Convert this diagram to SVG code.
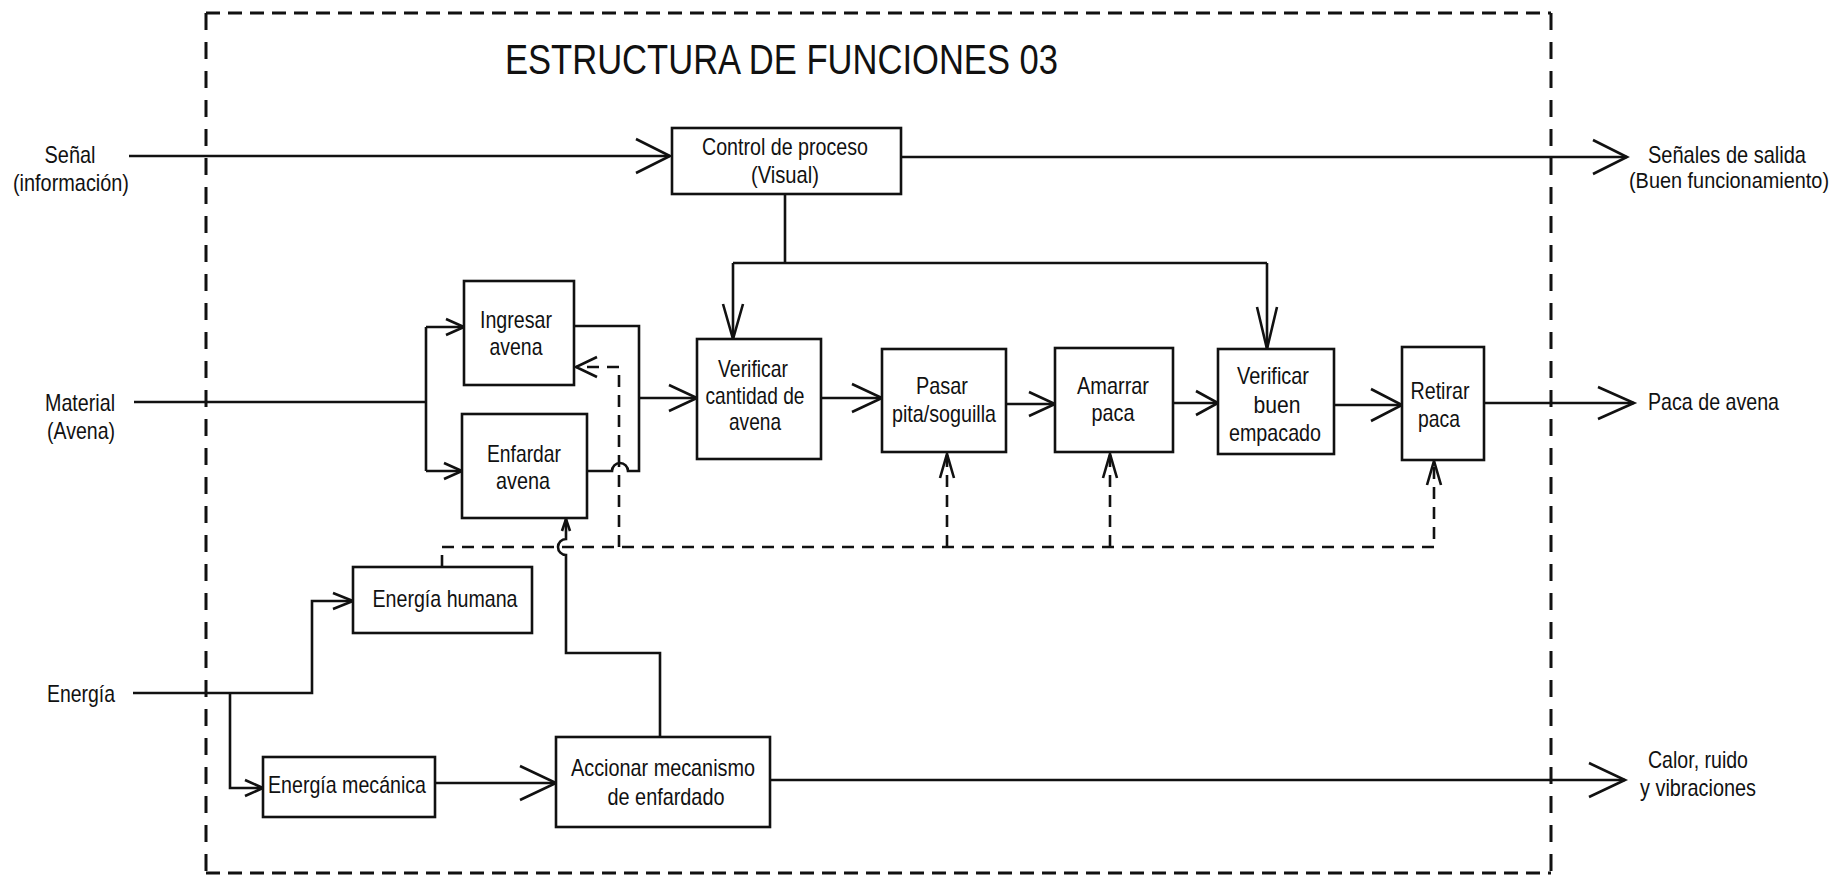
<svg xmlns="http://www.w3.org/2000/svg" width="1847" height="878" viewBox="0 0 1847 878">
<style>
.bg{fill:#fff}
.box{fill:#fff;stroke:#111;stroke-width:2.6}
.ln{fill:none;stroke:#111;stroke-width:2.6;stroke-linejoin:miter}
.ah{fill:none;stroke:#111;stroke-width:2.6;stroke-linejoin:miter}
.dl{fill:none;stroke:#111;stroke-width:2.6;stroke-dasharray:12 8}
.bh{fill:none;stroke:#111;stroke-width:3;stroke-dasharray:14 8}
.bv{fill:none;stroke:#111;stroke-width:3;stroke-dasharray:17 12}
text{font-family:"Liberation Sans",Arial,sans-serif;font-size:24px;fill:#111;text-anchor:middle}
.title{font-size:43px;text-anchor:start}
.st{text-anchor:start}
.sm{font-size:22px}
</style>
<rect class="bg" x="0" y="0" width="1847" height="878"/>

<g id="boundary">
<line class="bh" x1="206" y1="13" x2="1551" y2="13"/>
<line class="bh" x1="206" y1="873" x2="1551" y2="873"/>
<line class="bv" x1="206" y1="13" x2="206" y2="873"/>
<line class="bv" x1="1551" y1="13" x2="1551" y2="873"/>
</g>

<g id="title"><text class="title" x="505" y="74" textLength="553" lengthAdjust="spacingAndGlyphs">ESTRUCTURA DE FUNCIONES 03</text></g>

<g id="connectors">
<path class="ln" d="M129 156 H670"/>
<path class="ah" d="M636 139 L670 156 L636 173"/>
<path class="ln" d="M901 157 H1627"/>
<path class="ah" d="M1593 140 L1627 157 L1593 174"/>
<path class="ln" d="M785 194 V263 M733 263 H1267 M733 263 V339 M1267 263 V349"/>
<path class="ah" d="M723 304 L733 339 L743 304"/>
<path class="ah" d="M1257 307 L1267 349 L1277 307"/>
<path class="ln" d="M134 402 H426 M426 327 V471 M426 327 H464 M426 471 H462"/>
<path class="ah" d="M446 319 L464 327 L446 335"/>
<path class="ah" d="M444 463 L462 471 L444 479"/>
<path class="ln" d="M574 326 H639 V471 H628 A8 8 0 0 0 612 471 H587"/>
<path class="ln" d="M639 398 H697"/>
<path class="ah" d="M669 385 L697 398 L669 411"/>
<path class="ln" d="M821 398 H882"/>
<path class="ah" d="M852 384 L882 398 L852 412"/>
<path class="ln" d="M1006 404 H1055"/>
<path class="ah" d="M1029 392 L1055 404 L1029 416"/>
<path class="ln" d="M1173 403 H1218"/>
<path class="ah" d="M1196 391 L1218 403 L1196 415"/>
<path class="ln" d="M1334 405 H1402"/>
<path class="ah" d="M1371 389 L1402 405 L1371 421"/>
<path class="ln" d="M1484 403 H1634"/>
<path class="ah" d="M1598 387 L1634 403 L1598 419"/>
<path class="ln" d="M133 693 H312 V601 H353 M230 693 V788 H263"/>
<path class="ah" d="M333 593 L353 601 L333 609"/>
<path class="ah" d="M245 780 L263 788 L245 796"/>
<path class="ln" d="M435 783 H556"/>
<path class="ah" d="M520 766 L556 783 L520 800"/>
<path class="ln" d="M660 737 V653 H566 V555 A8 8 0 0 1 566 539 V519"/>
<path class="ah" d="M562 531 L566 519 L570 531"/>
<path class="ln" d="M770 780 H1625"/>
<path class="ah" d="M1589 763 L1625 780 L1589 797"/>
<path class="dl" d="M442 567 V547 H1434 V462"/>
<path class="dl" d="M619 547 V367 H576"/>
<path class="dl" d="M947 547 V454"/>
<path class="dl" d="M1110 547 V454"/>
<path class="ah" d="M597 357 L576 367 L597 377"/>
<path class="ah" d="M940 478 L947 454 L954 478"/>
<path class="ah" d="M1103 478 L1110 454 L1117 478"/>
<path class="ah" d="M1427 485 L1434 461 L1441 485"/>
</g>

<g id="n-control"><rect class="box" x="672" y="128" width="229" height="66"/>
<text x="785" y="155" textLength="166" lengthAdjust="spacingAndGlyphs">Control de proceso</text>
<text x="785" y="183" textLength="68" lengthAdjust="spacingAndGlyphs">(Visual)</text></g>

<g id="n-ingresar"><rect class="box" x="464" y="281" width="110" height="104"/>
<text x="516" y="328" textLength="72" lengthAdjust="spacingAndGlyphs">Ingresar</text>
<text x="516" y="355" textLength="53" lengthAdjust="spacingAndGlyphs">avena</text></g>

<g id="n-enfardar"><rect class="box" x="462" y="414" width="125" height="104"/>
<text x="524" y="462" textLength="74" lengthAdjust="spacingAndGlyphs">Enfardar</text>
<text x="523" y="489" textLength="54" lengthAdjust="spacingAndGlyphs">avena</text></g>

<g id="n-verificar-cantidad"><rect class="box" x="697" y="339" width="124" height="120"/>
<text x="753" y="377" textLength="70" lengthAdjust="spacingAndGlyphs">Verificar</text>
<text x="755" y="404" textLength="99" lengthAdjust="spacingAndGlyphs">cantidad de</text>
<text x="755" y="430" textLength="52" lengthAdjust="spacingAndGlyphs">avena</text></g>

<g id="n-pasar"><rect class="box" x="882" y="349" width="124" height="103"/>
<text x="942" y="394" textLength="52" lengthAdjust="spacingAndGlyphs">Pasar</text>
<text x="944" y="422" textLength="104" lengthAdjust="spacingAndGlyphs">pita/soguilla</text></g>

<g id="n-amarrar"><rect class="box" x="1055" y="348" width="118" height="104"/>
<text x="1113" y="394" textLength="72" lengthAdjust="spacingAndGlyphs">Amarrar</text>
<text x="1113" y="421" textLength="43" lengthAdjust="spacingAndGlyphs">paca</text></g>

<g id="n-verificar-buen"><rect class="box" x="1218" y="349" width="116" height="105"/>
<text x="1273" y="384" textLength="72" lengthAdjust="spacingAndGlyphs">Verificar</text>
<text x="1277" y="413" textLength="47" lengthAdjust="spacingAndGlyphs">buen</text>
<text x="1275" y="441" textLength="92" lengthAdjust="spacingAndGlyphs">empacado</text></g>

<g id="n-retirar"><rect class="box" x="1402" y="347" width="82" height="113"/>
<text x="1440" y="399" textLength="59" lengthAdjust="spacingAndGlyphs">Retirar</text>
<text x="1439" y="427" textLength="42" lengthAdjust="spacingAndGlyphs">paca</text></g>

<g id="n-energia-humana"><rect class="box" x="353" y="567" width="179" height="66"/>
<text x="445" y="607" textLength="145" lengthAdjust="spacingAndGlyphs">Energía humana</text></g>

<g id="n-energia-mecanica"><rect class="box" x="263" y="757" width="172" height="60"/>
<text x="347" y="793" textLength="158" lengthAdjust="spacingAndGlyphs">Energía mecánica</text></g>

<g id="n-accionar"><rect class="box" x="556" y="737" width="214" height="90"/>
<text x="663" y="776" textLength="184" lengthAdjust="spacingAndGlyphs">Accionar mecanismo</text>
<text x="666" y="805" textLength="117" lengthAdjust="spacingAndGlyphs">de enfardado</text></g>

<g id="in-senal"><text x="70" y="163" textLength="51" lengthAdjust="spacingAndGlyphs">Señal</text>
<text x="71" y="191" textLength="116" lengthAdjust="spacingAndGlyphs">(información)</text></g>
<g id="in-material"><text x="80" y="411" textLength="70" lengthAdjust="spacingAndGlyphs">Material</text>
<text x="81" y="439" textLength="68" lengthAdjust="spacingAndGlyphs">(Avena)</text></g>
<g id="in-energia"><text x="81" y="702" textLength="68" lengthAdjust="spacingAndGlyphs">Energía</text></g>
<g id="out-senales"><text x="1727" y="163" textLength="158" lengthAdjust="spacingAndGlyphs">Señales de salida</text>
<text class="sm" x="1729" y="188" textLength="200" lengthAdjust="spacingAndGlyphs">(Buen funcionamiento)</text></g>
<g id="out-paca"><text class="st" x="1648" y="410" textLength="131" lengthAdjust="spacingAndGlyphs">Paca de avena</text></g>
<g id="out-calor"><text x="1698" y="768" textLength="100" lengthAdjust="spacingAndGlyphs">Calor, ruido</text>
<text x="1698" y="796" textLength="116" lengthAdjust="spacingAndGlyphs">y vibraciones</text></g>
</svg>
